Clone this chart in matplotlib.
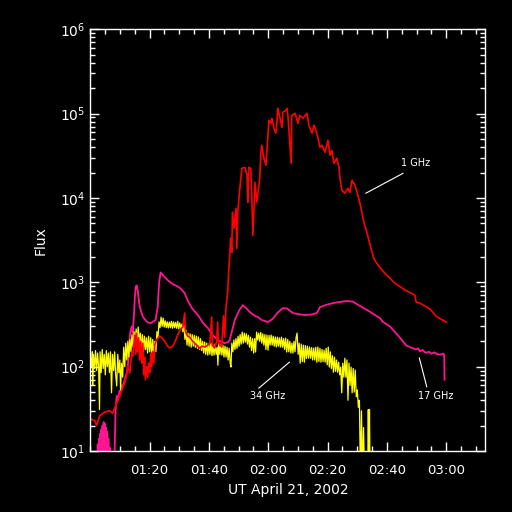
import matplotlib
matplotlib.use("Agg")
import matplotlib.pyplot as plt
from matplotlib.ticker import MultipleLocator, FixedLocator, LogLocator, NullFormatter
import numpy as np

# time in minutes after 01:00 UT, flux in arbitrary units
t_1ghz = [0, 1.5, 2.1, 3.1, 4.8, 6.5, 7.5, 8.9, 9.9, 10.9,
          11.6, 12.3, 12.6, 13.3, 14.0, 14.3, 15.0, 15.3, 15.6, 15.9,
          16.3, 16.6, 17.0, 17.3, 17.7, 18.0, 18.3, 18.6, 19.0, 19.3,
          19.7, 20.0, 20.4, 20.7, 21.0, 21.4, 21.7, 22.4, 23.4, 24.4,
          25.1, 25.8, 26.8, 27.8, 28.5, 29.5, 30.5, 31.2, 31.8, 32.1,
          32.8, 33.5, 34.5, 35.2, 36.2, 36.9, 37.6, 38.6, 39.6, 40.3,
          40.9, 41.2, 41.9, 42.6, 42.9, 43.2, 44.3, 44.9, 45.3, 45.7,
          46.3, 46.7, 47.0, 47.3, 47.7, 47.9, 48.4, 49.1, 49.4, 49.7,
          50.4, 51.1, 52.1, 52.8, 53.1, 53.4, 54.1, 54.4, 54.8, 55.5,
          56.1, 56.5, 57.1, 57.5, 57.8, 58.5, 59.2, 59.8, 60.2, 60.9,
          61.2, 61.9, 62.5, 62.9, 63.2, 63.9, 64.6, 64.9, 65.9, 66.3,
          66.6, 67.7, 67.9, 69.0, 70.0, 70.6, 71.7, 73.0, 73.7, 74.7,
          75.4, 75.7, 76.7, 77.4, 78.1, 79.1, 80.1, 80.8, 81.4, 82.1,
          83.1, 83.8, 84.1, 84.8, 85.8, 86.8, 87.5, 88.2, 89.2, 90.2,
          90.9, 91.6, 92.3, 93.3, 94.3, 95.6, 97.0, 99.3, 102.7, 106.1,
          109.4, 109.8, 111.1, 114.5, 116.9, 120.0]
f_1ghz = [24, 23, 20, 26, 29, 30, 28, 37, 45, 56,
          64, 80, 102, 84, 150, 134, 237, 140, 250, 150,
          220, 120, 200, 110, 190, 80, 130, 70, 100, 75,
          110, 85, 145, 100, 150, 110, 180, 210, 230, 215,
          200, 180, 166, 175, 195, 240, 280, 295, 432, 260,
          230, 224, 200, 190, 175, 165, 175, 171, 180, 190,
          387, 180, 166, 200, 338, 190, 171, 400, 224, 494,
          766, 1460, 2090, 3330, 2270, 6770, 4380, 7550, 2530, 6770,
          13000, 22500, 23100, 18600, 8900, 23100, 22500, 10800, 3610, 15300,
          8900, 11700, 17100, 34800, 42200, 29600, 24400, 51000, 83400, 76800,
          88100, 67000, 58500, 78900, 115600, 90400, 68900, 104000, 109000, 115600,
          95500, 25800, 95500, 101000, 76800, 95500, 88100, 101000, 72700, 58500,
          72700, 68900, 52400, 39900, 42200, 34800, 48300, 32100, 36800, 25800,
          29600, 23100, 17600, 12300, 11400, 13000, 11700, 16200, 14200, 10800,
          8650, 6580, 5000, 3810, 2780, 1900, 1590, 1280, 973, 810,
          705, 582, 567, 481, 387, 338]

t_17ghz = [0, 2.4, 2.5, 2.7, 2.9, 3.1, 3.3, 3.5, 3.7, 3.9,
           4.1, 4.3, 4.5, 4.7, 4.9, 5.1, 5.3, 5.5, 5.7, 5.9,
           6.1, 6.3, 6.5, 6.7, 8.0, 8.2, 8.5, 8.9, 9.2, 9.9,
           10.2, 10.6, 10.9, 11.6, 12.3, 12.6, 12.9, 13.3, 13.6, 14.0,
           14.3, 14.7, 15.0, 15.3, 15.6, 16.0, 16.6, 17.3, 17.7, 18.5,
           19.3, 20.0, 20.5, 21.0, 22.0, 22.7, 23.2, 23.7, 24.4, 25.1,
           26.1, 27.1, 28.5, 29.8, 30.8, 31.8, 32.9, 34.5, 36.3, 38.0,
           39.6, 41.3, 43.0, 44.3, 45.3, 46.3, 47.0, 47.7, 48.7, 50.1,
           51.4, 52.4, 53.8, 55.5, 56.5, 57.8, 59.9, 61.5, 63.2, 64.9,
           66.3, 68.3, 70.0, 72.3, 74.5, 76.4, 77.4, 79.5, 81.8, 84.0,
           86.5, 88.5, 89.9, 91.5, 93.3, 96.0, 97.6, 98.7, 101.0, 103.0,
           104.4, 106.4, 107.8, 109.8, 110.5, 111.1, 112.0, 113.0, 114.2, 115.0,
           116.0, 116.9, 118.0, 119.0, 119.3, 119.4]
f_17ghz = [5, 5, 12, 5, 14, 5, 16, 5, 18, 6,
           20, 6, 22, 6, 21, 6, 19, 6, 17, 6,
           14, 5, 11, 5, 5, 10, 30, 45, 40, 52,
           50, 60, 58, 70, 85, 100, 130, 230, 270, 300,
           250, 400, 650, 880, 920, 800, 520, 432, 390, 360,
           335, 329, 330, 340, 357, 508, 1000, 1310, 1230, 1150,
           1060, 990, 925, 880, 820, 745, 600, 480, 409, 330,
           288, 235, 207, 195, 190, 195, 207, 260, 357, 460,
           537, 500, 443, 400, 387, 357, 338, 370, 440, 494,
           490, 432, 420, 409, 415, 432, 508, 540, 567, 585,
           600, 590, 550, 510, 469, 409, 377, 338, 300, 250,
           220, 180, 170, 160, 165, 152, 158, 146, 150, 142,
           148, 141, 139, 143, 137, 70]

t_34ghz = [0.0, 0.35, 0.7, 0.8, 1.05, 1.4, 1.75, 2.1, 2.45, 2.8,
           3.1, 3.3, 3.65, 4.0, 4.35, 4.7, 5.05, 5.4, 5.75, 6.1,
           6.45, 6.8, 7.15, 7.5, 7.85, 8.2, 8.55, 8.9, 9.25, 9.6,
           9.95, 10.2, 10.55, 10.9, 11.25, 11.6, 11.95, 12.3, 12.65, 13.0,
           13.35, 13.7, 14.05, 14.4, 14.75, 15.1, 15.45, 15.8, 16.15, 16.5,
           16.85, 17.2, 17.55, 17.9, 18.25, 18.6, 18.95, 19.3, 19.65, 20.0,
           20.35, 20.7, 21.05, 21.4, 21.75, 22.1, 22.45, 22.8, 23.15, 23.5,
           23.85, 24.2, 24.55, 24.9, 25.25, 25.6, 25.95, 26.3, 26.65, 27.0,
           27.35, 27.7, 28.05, 28.4, 28.75, 29.1, 29.45, 29.8, 30.15, 30.5,
           30.85, 31.2, 31.55, 31.9, 32.25, 32.6, 32.95, 33.3, 33.65, 34.0,
           34.35, 34.7, 35.05, 35.4, 35.75, 36.1, 36.45, 36.8, 37.15, 37.5,
           37.85, 38.2, 38.55, 38.9, 39.25, 39.6, 39.95, 40.3, 40.65, 41.0,
           41.35, 41.7, 42.05, 42.4, 42.75, 43.0, 43.3, 43.65, 44.0, 44.35,
           44.7, 45.05, 45.4, 45.75, 46.1, 46.45, 46.8, 47.15, 47.4, 47.7,
           48.05, 48.4, 48.75, 49.1, 49.45, 49.8, 50.15, 50.5, 50.85, 51.2,
           51.55, 51.9, 52.25, 52.6, 52.95, 53.3, 53.65, 54.0, 54.35, 54.7,
           55.05, 55.4, 55.7, 56.05, 56.4, 56.75, 57.1, 57.45, 57.8, 58.15,
           58.5, 58.85, 59.2, 59.55, 59.9, 60.25, 60.6, 60.95, 61.3, 61.65,
           62.0, 62.35, 62.7, 63.05, 63.4, 63.75, 64.1, 64.45, 64.8, 65.15,
           65.5, 65.85, 66.2, 66.55, 66.9, 67.25, 67.6, 67.95, 68.3, 68.65,
           69.0, 69.35, 69.7, 70.05, 70.4, 70.75, 71.1, 71.45, 71.8, 72.15,
           72.5, 72.85, 73.2, 73.55, 73.9, 74.25, 74.6, 74.95, 75.3, 75.65,
           76.0, 76.35, 76.7, 77.05, 77.4, 77.75, 78.1, 78.45, 78.8, 79.15,
           79.5, 79.85, 80.2, 80.55, 80.9, 81.25, 81.6, 81.95, 82.3, 82.65,
           83.0, 83.35, 83.7, 84.05, 84.4, 84.75, 85.1, 85.45, 85.8, 86.15,
           86.5, 86.85, 87.2, 87.55, 87.9, 88.25, 88.6, 88.95, 89.3, 89.65,
           90.0, 90.35, 90.7, 91.05, 91.4, 91.75, 92.1, 92.45, 93.5, 93.7,
           93.9, 94.1, 94.3, 120.0]
f_34ghz = [130, 100, 150, 60, 140, 95, 155, 90, 145, 100,
           31, 150, 85, 160, 95, 140, 80, 155, 100, 145,
           85, 150, 49, 140, 90, 150, 80, 59, 140, 85,
           120, 53, 110, 75, 170, 100, 190, 120, 200, 130,
           210, 150, 240, 170, 260, 180, 280, 200, 295, 190,
           250, 160, 240, 150, 230, 160, 220, 145, 230, 150,
           220, 140, 210, 130, 200, 150, 260, 220, 340, 290,
           387, 300, 377, 295, 350, 290, 340, 288, 338, 290,
           345, 285, 340, 290, 335, 285, 345, 280, 330, 290,
           320, 260, 311, 210, 270, 180, 250, 175, 245, 170,
           240, 175, 235, 170, 230, 165, 225, 160, 215, 155,
           200, 145, 196, 140, 190, 137, 185, 140, 190, 135,
           180, 137, 185, 140, 170, 104, 190, 140, 185, 137,
           180, 130, 175, 130, 170, 120, 165, 110, 99, 190,
           150, 207, 160, 215, 165, 230, 175, 240, 185, 257,
           190, 250, 195, 245, 185, 235, 170, 224, 155, 215,
           145, 215, 149, 257, 207, 250, 200, 255, 190, 245,
           180, 240, 160, 237, 157, 235, 180, 237, 180, 230,
           175, 225, 171, 224, 175, 220, 171, 224, 170, 215,
           160, 218, 149, 210, 150, 200, 145, 190, 145, 200,
           150, 220, 250, 140, 190, 110, 185, 115, 180, 113,
           178, 125, 175, 126, 171, 126, 168, 120, 166, 120,
           170, 113, 171, 115, 165, 113, 160, 115, 157, 113,
           165, 105, 171, 99, 150, 95, 135, 86, 130, 88,
           120, 86, 113, 80, 99, 49, 110, 75, 126, 75,
           120, 40, 110, 60, 99, 49, 95, 50, 91, 44,
           53, 33, 40, 5, 30, 5, 19, 5, 5, 31,
           5, 31, 5, 5]

tick_minutes = [20, 40, 60, 80, 100, 120]
tick_labels = ["01:20", "01:40", "02:00", "02:20", "02:40", "03:00"]

pink = "#ff1493"

fig = plt.figure(figsize=(5.12, 5.12), dpi=100, facecolor="black")
ax = fig.add_axes([0.1764, 0.1191, 0.7718, 0.8237])
ax.set_facecolor("black")

ax.plot(t_17ghz, f_17ghz, color=pink, lw=1.3)
ax.plot(t_34ghz, f_34ghz, color="yellow", lw=0.9)
ax.plot(t_1ghz, f_1ghz, color="red", lw=1.2)

ax.set_yscale("log")
ax.set_ylim(10, 1e6)
ax.set_xlim(0, 133.2)

ax.xaxis.set_major_locator(FixedLocator(tick_minutes))
ax.set_xticklabels(tick_labels)
ax.xaxis.set_minor_locator(MultipleLocator(5))
ax.yaxis.set_major_locator(LogLocator(base=10, numticks=10))
ax.yaxis.set_minor_locator(LogLocator(base=10, subs=np.arange(2, 10), numticks=20))
ax.yaxis.set_minor_formatter(NullFormatter())

for s in ax.spines.values():
    s.set_color("white")
    s.set_linewidth(1.0)
ax.tick_params(which="both", direction="in", top=True, right=True,
               colors="white", width=1.0)
ax.tick_params(which="major", length=6.5)
ax.tick_params(which="minor", length=3.6)
ax.tick_params(axis="x", which="major", pad=9, labelsize=9.5)
ax.tick_params(axis="y", which="major", pad=3.5, labelsize=10)

ax.text(0.5, -0.0925, "UT April 21, 2002", transform=ax.transAxes,
        color="white", fontsize=10, ha="center", va="center")
ax.text(-0.127, 0.5, "Flux", transform=ax.transAxes, rotation=90,
        color="white", fontsize=10, ha="center", va="center")

# band labels with leader lines
ax.plot([92.9, 105.4], [11400, 19600], color="white", lw=0.8)
ax.text(109.6, 25800, "1 GHz", color="white", fontsize=7, ha="center", va="center")
ax.plot([56.8, 67.1], [55.7, 113], color="white", lw=0.8)
ax.text(59.7, 44.9, "34 GHz", color="white", fontsize=7, ha="center", va="center")
ax.plot([110.9, 113.4], [127, 57.8], color="white", lw=0.8)
ax.text(116.4, 45, "17 GHz", color="white", fontsize=7, ha="center", va="center")

fig.savefig("out.png", dpi=100, facecolor="black")
